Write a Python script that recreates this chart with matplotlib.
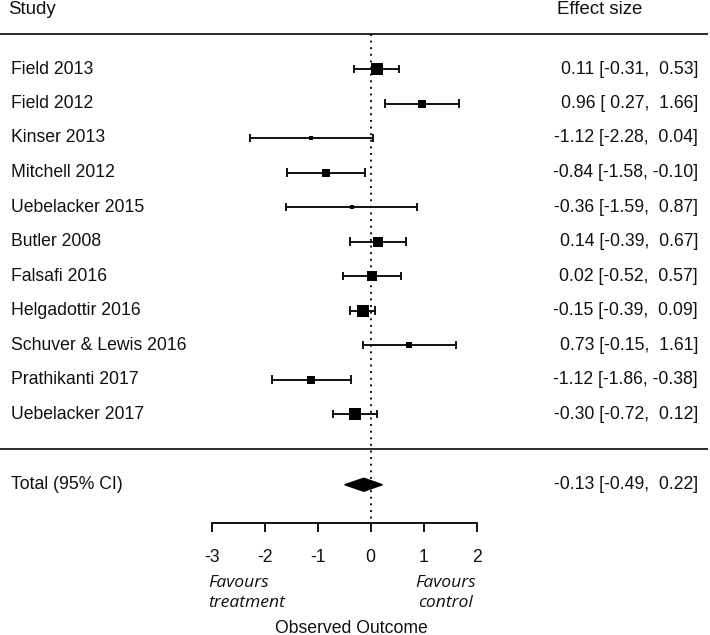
import matplotlib
matplotlib.use("Agg")
import matplotlib.pyplot as plt
from matplotlib.patches import Polygon

# ---------------- data ----------------
studies = ["Field 2013", "Field 2012", "Kinser 2013", "Mitchell 2012",
           "Uebelacker 2015", "Butler 2008", "Falsafi 2016", "Helgadottir 2016",
           "Schuver & Lewis 2016", "Prathikanti 2017", "Uebelacker 2017"]
estimates = [0.11, 0.96, -1.12, -0.84, -0.36, 0.14, 0.02, -0.15, 0.73, -1.12, -0.30]
ci_lower = [-0.31, 0.27, -2.28, -1.58, -1.59, -0.39, -0.52, -0.39, -0.15, -1.86, -0.72]
ci_upper = [0.53, 1.66, 0.04, -0.10, 0.87, 0.67, 0.57, 0.09, 1.61, -0.38, 0.12]
weights = [11.3, 8.9, 5.6, 8.5, 5.2, 10.4, 10.2, 12.6, 7.4, 8.5, 11.3]  # % (estimated)

total_label = "Total (95% CI)"
total_est = -0.13
total_lower = -0.49
total_upper = 0.22

xticks = [-3, -2, -1, 0, 1, 2]
header_left = "Study"
header_right = "Effect size"
xlabel = "Observed Outcome"
favours_left = "Favours\ntreatment"
favours_right = "Favours\ncontrol"

# ---------------- layout ----------------
W, H, DPI = 710, 635, 100
X0_PX, UNIT_PX = 370.7, 53.0      # pixel position of 0 and pixels per unit
Y0_PX, ROW_PX = 69.0, 34.5        # pixel position of first row and row spacing

def px2x(px):
    return (px - X0_PX) / UNIT_PX

def px2y(py):
    return (py - Y0_PX) / ROW_PX

plt.rcParams['font.family'] = ['Liberation Sans', 'DejaVu Sans']
TXT = "#111111"
FS = 12.7

fig = plt.figure(figsize=(W / DPI, H / DPI), dpi=DPI)
ax = fig.add_axes([0, 0, 1, 1])
ax.set_xlim(px2x(0), px2x(W))
ax.set_ylim(px2y(H), px2y(0))
ax.axis("off")

n = len(studies)
rows = list(range(n))
total_row = n + 1.05
sep_row = n
top_row = -1
axis_y = px2y(523)
tick_len = px2y(531) - axis_y

# header + separators
ax.text(px2x(8), px2y(9), header_left, ha="left", va="center", fontsize=13.4, color=TXT)
ax.text(px2x(642), px2y(9), header_right, ha="right", va="center", fontsize=13.4, color=TXT)
for r in (top_row, sep_row):
    ax.plot([px2x(0), px2x(708)], [r, r], color="#2a2a2a", lw=1.4, solid_capstyle="butt")

# reference line
ax.plot([0, 0], [top_row, axis_y], color="#111111", lw=1.4, linestyle=(0, (1, 2.4)))

# study rows
wmin, wmax = min(weights), max(weights)
for i, r in enumerate(rows):
    lo, hi, est = ci_lower[i], ci_upper[i], estimates[i]
    ax.plot([lo, hi], [r, r], color="#111111", lw=1.4)
    cap = 0.1
    ax.plot([lo, lo], [r - cap, r + cap], color="#111111", lw=1.4)
    ax.plot([hi, hi], [r - cap, r + cap], color="#111111", lw=1.4)
    size_px = 4.0 + (weights[i] - wmin) / (wmax - wmin) * (12.5 - 4.0)
    ax.plot([est], [r], marker="s", color="black", markersize=size_px * 72 / DPI,
            markeredgewidth=0, linestyle="none")
    ax.text(px2x(11), r, studies[i], ha="left", va="center", fontsize=FS, color=TXT)
    ax.text(px2x(698), r, f"{est:.2f} [{lo:5.2f}, {hi:5.2f}]", ha="right", va="center",
            fontsize=FS, color=TXT)

# total
dh = 6.5 / ROW_PX
diamond = Polygon([[total_lower, total_row], [total_est, total_row - dh],
                   [total_upper, total_row], [total_est, total_row + dh]],
                  closed=True, facecolor="black", edgecolor="black", lw=1.0)
ax.add_patch(diamond)
ax.text(px2x(11), total_row, total_label, ha="left", va="center", fontsize=FS, color=TXT)
ax.text(px2x(698), total_row,
        f"{total_est:.2f} [{total_lower:5.2f}, {total_upper:5.2f}]",
        ha="right", va="center", fontsize=FS, color=TXT)

# x axis
ax.plot([xticks[0], xticks[-1]], [axis_y, axis_y], color="#111111", lw=1.4, solid_capstyle="butt")
for t in xticks:
    ax.plot([t, t], [axis_y, axis_y + tick_len], color="#111111", lw=1.4)
    ax.text(t, px2y(557), f"{t}", ha="center", va="center", fontsize=FS, color=TXT)

ax.text(px2x(208), px2y(593), favours_left, ha="left", va="center", fontsize=12.6,
        style="italic", family=["Open Sans", "DejaVu Sans"], color=TXT, linespacing=1.3)
ax.text(px2x(446), px2y(593), favours_right, ha="center", va="center", fontsize=12.6,
        style="italic", family=["Open Sans", "DejaVu Sans"], color=TXT, linespacing=1.3)
ax.text(px2x(351), px2y(628), xlabel, ha="center", va="center", fontsize=FS, color=TXT)

fig.savefig("out.png", dpi=DPI)
